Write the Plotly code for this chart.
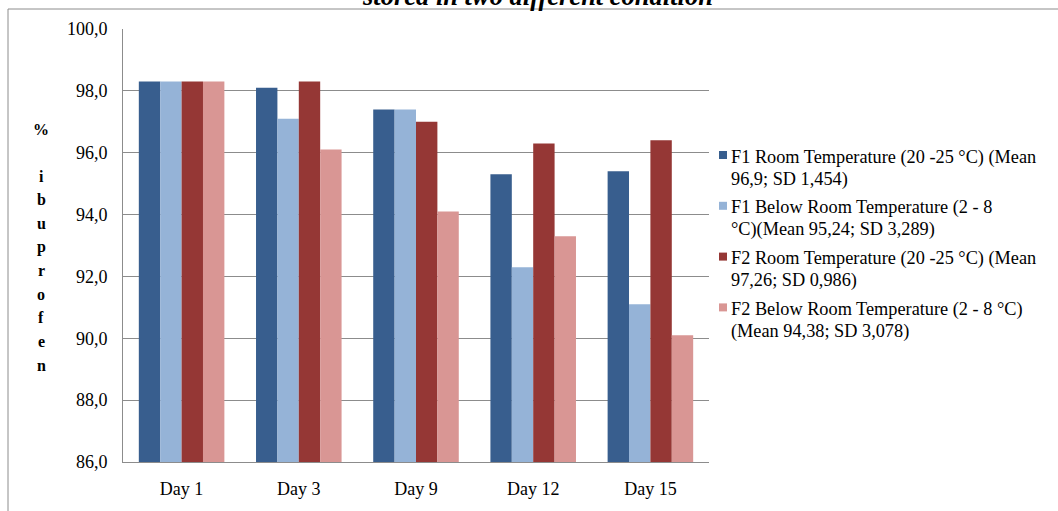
import plotly.graph_objects as go

# Storage days and % ibuprofen content for each formulation / condition
days = ["Day 1", "Day 3", "Day 9", "Day 12", "Day 15"]
f1_room = [98.3, 98.1, 97.4, 95.3, 95.4]
f1_below = [98.3, 97.1, 97.4, 92.3, 91.1]
f2_room = [98.3, 98.3, 97.0, 96.3, 96.4]
f2_below = [98.3, 96.1, 94.1, 93.3, 90.1]

series_names = [
    "F1 Room Temperature (20 -25 °C) (Mean<br>96,9; SD 1,454)",
    "F1 Below Room Temperature (2 - 8<br>°C)(Mean 95,24; SD 3,289)",
    "F2 Room Temperature (20 -25 °C) (Mean<br>97,26; SD 0,986)",
    "F2 Below Room Temperature (2 - 8 °C)<br>(Mean 94,38; SD 3,078)",
]
series_values = [f1_room, f1_below, f2_room, f2_below]
colors = ["#385E8E", "#95B3D7", "#953735", "#D99694"]

y_ticks = [86, 88, 90, 92, 94, 96, 98, 100]
axis_label = ["%", "", "i", "b", "u", "p", "r", "o", "f", "e", "n"]
title_text = "stored in two different condition"

W, H = 1058, 511
ML, MR, MT, MB = 123, 349, 29, 49
PW, PH = W - ML - MR, H - MT - MB


def px_x(p):
    return (p - ML) / PW


def px_y(p):
    return (H - MB - p) / PH


SERIF = "Liberation Serif"

fig = go.Figure()
for name, vals, col in zip(series_names, series_values, colors):
    fig.add_trace(go.Bar(x=days, y=vals, name=name, showlegend=False,
                         marker=dict(color=col, line=dict(width=0))))

shapes = [
    # chart frame
    dict(type="rect", xref="paper", yref="paper",
         x0=px_x(8), x1=px_x(1070), y0=px_y(520), y1=px_y(9),
         line=dict(color="#8c8c8c", width=1), fillcolor="rgba(0,0,0,0)", layer="below"),
]

annotations = [
    dict(text="<b><i>" + title_text + "</i></b>", xref="paper", yref="paper",
         x=px_x(537), y=px_y(-4), xanchor="center", yanchor="middle", showarrow=False,
         font=dict(family=SERIF, size=26.5, color="#000000")),
]
for i, ch in enumerate(axis_label):
    if not ch:
        continue
    annotations.append(dict(text="<b>" + ch + "</b>", xref="paper", yref="paper",
                            x=px_x(41), y=px_y(129 + i * 23.6), xanchor="center", yanchor="middle",
                            showarrow=False, font=dict(family=SERIF, size=16, color="#000000")))

# legend: small colour square plus two-line label for each series
for k, (name, col) in enumerate(zip(series_names, colors)):
    cy = 155 + k * 50.8
    shapes.append(dict(type="rect", xref="paper", yref="paper",
                       x0=px_x(719), x1=px_x(727), y0=px_y(cy + 4), y1=px_y(cy - 4),
                       line=dict(width=0), fillcolor=col))
    for j, line in enumerate(name.split("<br>")):
        annotations.append(dict(text=line, xref="paper", yref="paper", align="left",
                                x=px_x(729), y=px_y(cy + 2 + j * 22), xanchor="left", yanchor="middle",
                                showarrow=False, font=dict(family=SERIF, size=18.3, color="#000000")))

fig.update_layout(
    width=W, height=H,
    margin=dict(l=ML, r=MR, t=MT, b=MB, pad=0),
    paper_bgcolor="white", plot_bgcolor="white",
    separators=",.",
    barmode="group", bargap=0.27, bargroupgap=0,
    font=dict(family=SERIF, size=18, color="#000000"),
    showlegend=False,
    shapes=shapes,
    annotations=annotations,
    xaxis=dict(showline=True, linecolor="#8c8c8c", linewidth=1, ticks="", showgrid=False,
               automargin=False, ticklabelstandoff=10, tickfont=dict(family=SERIF, size=18)),
    yaxis=dict(range=[86, 100], tickvals=y_ticks, tickformat=".1f",
               showline=True, linecolor="#8c8c8c", linewidth=1, ticks="",
               showgrid=True, gridcolor="#8c8c8c", gridwidth=1, automargin=False,
               ticklabelstandoff=11, tickfont=dict(family=SERIF, size=18)),
)

fig.write_html("out.html")
